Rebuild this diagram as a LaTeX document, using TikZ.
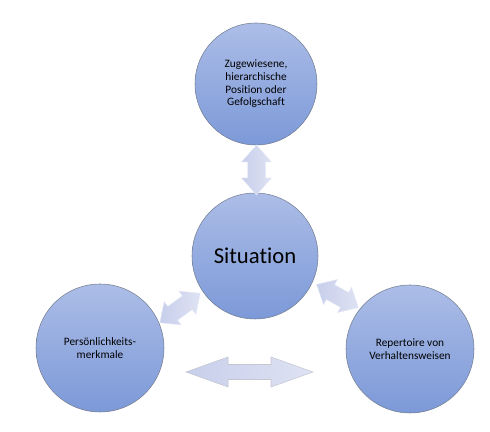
\documentclass[tikz,border=0pt]{standalone}
\usepackage{fontspec}
\setmainfont[Ligatures=NoCommon]{Carlito}
\definecolor{circtop}{RGB}{172,189,231}
\definecolor{circbot}{RGB}{124,153,216}
\definecolor{circline}{RGB}{115,125,145}
\definecolor{arrA}{RGB}{200,207,235}
\definecolor{arrB}{RGB}{222,226,243}
\definecolor{arrline}{RGB}{196,198,210}
\tikzset{
  bubble/.style={circle, minimum size=#1, inner sep=0pt, draw=circline, line width=0.4pt,
    top color=circtop, bottom color=circbot, align=center,
    font=\fontsize{8.5pt}{9.5pt}\selectfont},
  smallarr/.style={left color=arrA, right color=arrB, draw=arrB!70!white, line width=0.3pt},
  bigarr/.style={left color=arrA, right color=arrB, draw=arrline, line width=0.4pt},
  pics/dblarr/.style n args={4}{code={
    \path[pic actions] (-#1,0) -- (-#1+#2,#3) -- (-#1+#2,#4) -- (#1-#2,#4) -- (#1-#2,#3)
      -- (#1,0) -- (#1-#2,-#3) -- (#1-#2,-#4) -- (-#1+#2,-#4) -- (-#1+#2,-#3) -- cycle;
  }}
}
\begin{document}
\begin{tikzpicture}[x=0.75pt,y=0.75pt]
\useasboundingbox (0,0) rectangle (490,432);
\node[bubble=91.5pt] (top) at (256,348) {Zugewiesene,\\hierarchische\\Position oder\\Gefolgschaft};
\node[bubble=94.5pt, font=\fontsize{17pt}{20pt}\selectfont] (sit) at (255,176) {Situation};
\node[bubble=96pt] (left) at (100,84) {Persönlichkeits-\\merkmale};
\node[bubble=96pt] (right) at (410,83) {Repertoire von\\Verhaltensweisen};
\coordinate (ts) at (256.5,262);
\coordinate (ls) at (180,124);
\coordinate (rs) at (337.5,136);
\coordinate (lr) at (249.5,60);
\pic[smallarr, rotate=90] at (ts) {dblarr={25}{17}{15}{9}};
\pic[smallarr, rotate=36] at (ls) {dblarr={25}{16}{14.5}{8.5}};
\pic[smallarr, rotate=-29] at (rs) {dblarr={24}{16}{14.5}{8.5}};
\pic[bigarr] at (lr) {dblarr={63.5}{42}{15}{7.5}};
\end{tikzpicture}
\end{document}
